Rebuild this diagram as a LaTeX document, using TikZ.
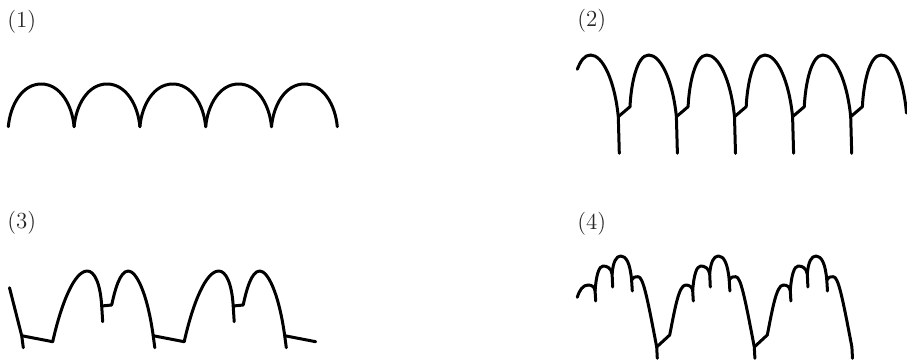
\documentclass[tikz,border=0pt]{standalone}
\usetikzlibrary{positioning}

\begin{document}
\begin{tikzpicture}[
  x=0.5pt, y=-0.5pt,
  wave/.style={draw=black, line width=1.5pt, line join=round, line cap=round},
  lbl/.style={font=\fontsize{11.5}{12}\selectfont, text=black!85, inner sep=0pt}
]
\useasboundingbox (0,0) rectangle (907,360);

% ---------------- labels ----------------
\node[lbl] (lab1) at (21.7,21.7) {(1)};
\node[lbl] (lab2) at (591.7,20.5) {(2)};
\node[lbl] (lab3) at (21.7,222.5) {(3)};
\node[lbl] (lab4) at (591.7,223.3) {(4)};

% ---------------- (1) ----------------
\foreach \k in {0,...,4}
  \draw[wave, shift={(65.8*\k,0)}] (8.3,126.7) .. controls (10.3,104.7) and (22.3,84) .. (41.2,84)
    .. controls (60.1,84) and (72.1,104.7) .. (74.1,126.7);

% ---------------- (2) ----------------
\draw[wave] (577.3,69.3) .. controls (580.5,61) and (584.5,55) .. (590.6,55);
\foreach \k in {0,...,4} {
  \begin{scope}[shift={(58.1*\k,0)}]
    \draw[wave] (590.6,55) .. controls (602.6,55) and (614.6,80) .. (618.3,116.7) -- (619.3,153.3);
    \draw[wave] (618.3,116.7) -- (630,106.7) .. controls (631,84.7) and (636.7,55) .. (648.7,55);
  \end{scope}
}
\draw[wave] (881.1,55) .. controls (893,55) and (903,76) .. (906.5,113);

% ---------------- (3) ----------------
\draw[wave] (9.5,287.7) -- (21.7,335.7) -- (23.3,347.7);
\foreach \k in {0,1} {
  \begin{scope}[shift={(131.5*\k,0)}]
    \draw[wave] (21.7,335.7) -- (52.7,341.7);
    \draw[wave] (52.7,341.7) .. controls (61.7,301.7) and (74.7,271) .. (87.3,271)
      .. controls (94.3,271) and (100.3,283) .. (101.7,306) -- (102.7,321.7);
    \draw[wave] (101.7,306) -- (111.7,305) .. controls (114.7,291) and (119.7,271) .. (128.3,271)
      .. controls (136.3,271) and (147.3,293) .. (153.2,335.7) -- (154.8,347.7);
  \end{scope}
}
\draw[wave] (284.7,335.7) -- (315.7,341.7);

% ---------------- (4) ----------------
\draw[wave] (577.3,297.3) .. controls (579.5,290) and (583,285) .. (588.1,285);
\foreach \k in {0,1,2} {
  \begin{scope}[shift={(97.6*\k,0)}]
    \ifnum\k>0
      \draw[wave] (559.1,347) -- (572.1,335) .. controls (577.1,310) and (581.1,285) .. (588.1,285);
    \fi
    \draw[wave] (588.1,285) .. controls (592.1,285) and (594.6,287) .. (595.1,291) -- (595.7,301);
    \draw[wave] (595.1,291) .. controls (596.1,275) and (599.1,266) .. (603.1,266)
      .. controls (607.1,266) and (611.1,268) .. (612.1,274) -- (612.7,287);
    \draw[wave] (612.1,274) .. controls (613.1,262) and (616.1,256) .. (620.8,256)
      .. controls (626.1,256) and (630.1,263) .. (631.6,280) -- (632.3,291);
    \draw[wave] (631.6,280) .. controls (632.6,277.5) and (634.6,276.7) .. (638.1,276.7)
      .. controls (643.1,276.7) and (647.1,296.7) .. (656.7,347) -- (657.3,358.3);
  \end{scope}
}

\end{tikzpicture}
\end{document}
